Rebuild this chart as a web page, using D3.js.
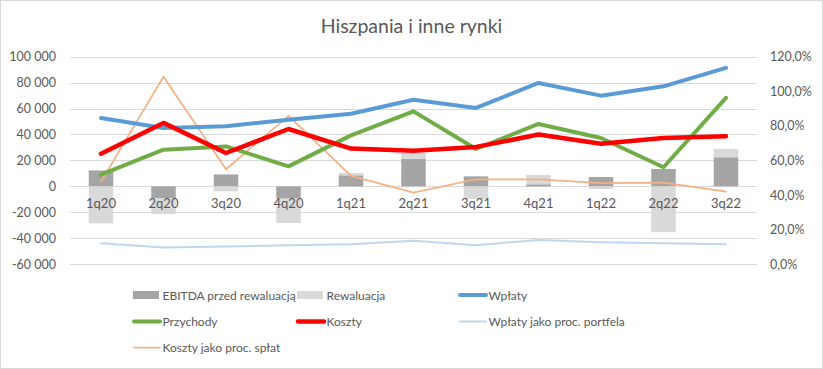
<!DOCTYPE html>
<html><head><meta charset="utf-8">
<script src="https://cdnjs.cloudflare.com/ajax/libs/d3/7.8.5/d3.min.js"></script>
<style>
html,body{margin:0;padding:0;background:#fff;}
svg{display:block;font-family:Lato,"Open Sans",sans-serif;}
</style></head>
<body>
<svg id="chart" width="823" height="369"></svg>
<script>
const categories = ["1q20","2q20","3q20","4q20","1q21","2q21","3q21","4q21","1q22","2q22","3q22"];
const ebitda      = [12300, -9300, 9200, -9500, 8500, 21300, 7700, 1600, 7200, 13400, 22400];
const rewaluacja  = [-28500, -12000, -3900, -18800, 1800, 4400, -9800, 7200, -2000, -35200, 6400];
const wplaty      = [52700, 45000, 46300, 51400, 56000, 66800, 60400, 79700, 69900, 77100, 91300];
const przychody   = [9000, 28300, 30800, 15400, 39300, 57800, 28800, 48100, 37300, 14700, 68200];
const koszty      = [25200, 48900, 25700, 44200, 29100, 27500, 30400, 39900, 32900, 37300, 38600];
const wplatyProc  = [12.1, 9.6, 10.3, 10.9, 11.6, 13.5, 11.0, 14.0, 12.7, 12.1, 11.6];
const kosztyProc  = [47.7, 108.4, 54.9, 85.7, 51.0, 41.4, 49.1, 49.1, 46.8, 47.2, 42.0];
const leftTicks   = [-60000, -40000, -20000, 0, 20000, 40000, 60000, 80000, 100000];
const rightTicks  = [0, 20, 40, 60, 80, 100, 120];
const title = "Hiszpania i inne rynki";
</script>
<script>
const svg = d3.select("#chart");
const W = 823, H = 369;
const plot = {l: 69.75, r: 757.25, t: 56.6, b: 264.2};
const textColor = "#595959";

svg.append("rect").attr("x",0.5).attr("y",0.5).attr("width",W-1).attr("height",H-1)
  .attr("fill","#fff").attr("stroke","#D9D9D9");

const x = d3.scaleBand().domain(categories).range([plot.l, plot.r]).paddingInner(0).paddingOuter(0);
const y = d3.scaleLinear().domain([-60000, 100000]).range([plot.b, plot.t]);
const y2 = d3.scaleLinear().domain([0, 120]).range([plot.b, plot.t]);

// gridlines
svg.append("g").selectAll("line").data(leftTicks).join("line")
  .attr("x1", plot.l).attr("x2", plot.r)
  .attr("y1", d => Math.round(y(d))+0.5).attr("y2", d => Math.round(y(d))+0.5)
  .attr("stroke", "#D9D9D9").attr("stroke-width", 1);

const locale = d3.formatLocale({decimal: ",", thousands: "\u00a0", grouping: [3], currency: ["", ""], minus: "-"});
const fmtL = locale.format(",.0f");
const fmtR = d => d3.format(".1f")(d).replace(".", ",") + "%";

// left axis
const axL = d3.axisLeft(y).tickValues(leftTicks).tickFormat(d => fmtL(d)).tickSize(0).tickPadding(0);
const gL = svg.append("g").attr("transform", `translate(56,0)`).call(axL);
gL.select(".domain").remove();
gL.selectAll("text").attr("fill", textColor).attr("font-size", "12.5px").attr("font-family","Lato,sans-serif");

// right axis
const axR = d3.axisRight(y2).tickValues(rightTicks).tickFormat(fmtR).tickSize(0).tickPadding(0);
const gR = svg.append("g").attr("transform", `translate(770,0)`).call(axR);
gR.select(".domain").remove();
gR.selectAll("text").attr("fill", textColor).attr("font-size", "12.5px").attr("font-family","Lato,sans-serif");

// stacked bars
const rows = categories.map((c,i) => ({cat: c, ebitda: ebitda[i], rew: rewaluacja[i]}));
const stack = d3.stack().keys(["ebitda","rew"]).offset(d3.stackOffsetDiverging);
const series = stack(rows);
const barColors = {ebitda: "#A5A5A5", rew: "#D9D9D9"};
const barW = 24.5;
svg.append("g").selectAll("g").data(series).join("g")
  .attr("fill", s => barColors[s.key])
  .selectAll("rect").data(s => s).join("rect")
  .attr("x", d => x(d.data.cat) + x.bandwidth()/2 - barW/2)
  .attr("width", barW)
  .attr("y", d => y(Math.max(d[0], d[1])))
  .attr("height", d => Math.abs(y(d[0]) - y(d[1])));

// category labels
svg.append("g").selectAll("text").data(categories).join("text")
  .attr("x", d => x(d) + x.bandwidth()/2).attr("y", y(0) + 22)
  .attr("text-anchor", "middle").attr("fill", textColor).attr("font-size", "13px")
  .text(d => d);

// lines
const cx = (d,i) => x(categories[i]) + x.bandwidth()/2;
const lineDefs = [
  {data: wplatyProc, scale: y2, color: "#BDD7EE", w: 2},
  {data: kosztyProc, scale: y2, color: "#F4B183", w: 1.75},
  {data: wplaty, scale: y, color: "#5B9BD5", w: 4},
  {data: przychody, scale: y, color: "#70AD47", w: 4},
  {data: koszty, scale: y, color: "#FF0000", w: 4.5},
];
lineDefs.forEach(L => {
  const gen = d3.line().x(cx).y(d => L.scale(d));
  svg.append("path").datum(L.data).attr("d", gen)
    .attr("fill", "none").attr("stroke", L.color).attr("stroke-width", L.w)
    .attr("stroke-linejoin", "round").attr("stroke-linecap", "round");
});

// title
svg.append("text").attr("x", 411.5).attr("y", 33).attr("text-anchor", "middle")
  .attr("fill", textColor).attr("font-size", "19.5px").text(title);

// legend
const legend = [
  {label: "EBITDA przed rewaluacją", type: "bar", color: "#A5A5A5", x: 133, y: 295},
  {label: "Rewaluacja", type: "bar", color: "#D9D9D9", x: 297, y: 295},
  {label: "Wpłaty", type: "line", color: "#5B9BD5", w: 4, x: 459, y: 295},
  {label: "Przychody", type: "line", color: "#70AD47", w: 4, x: 133, y: 321.5},
  {label: "Koszty", type: "line", color: "#FF0000", w: 4.5, x: 297, y: 321.5},
  {label: "Wpłaty jako proc. portfela", type: "line", color: "#BDD7EE", w: 2, x: 459, y: 321.5},
  {label: "Koszty jako proc. spłat", type: "line", color: "#F4B183", w: 1.75, x: 133, y: 347.5},
];
const lg = svg.append("g");
legend.forEach(d => {
  if (d.type === "bar") {
    lg.append("rect").attr("x", d.x).attr("y", d.y - 4).attr("width", 26).attr("height", 8).attr("fill", d.color);
  } else {
    lg.append("line").attr("x1", d.x + 1).attr("x2", d.x + 27).attr("y1", d.y).attr("y2", d.y)
      .attr("stroke", d.color).attr("stroke-width", d.w).attr("stroke-linecap", "round");
  }
  lg.append("text").attr("x", d.x + 29.5).attr("y", d.y + 4.5).attr("fill", textColor)
    .attr("font-size", "12px").text(d.label);
});
</script>
</body></html>
